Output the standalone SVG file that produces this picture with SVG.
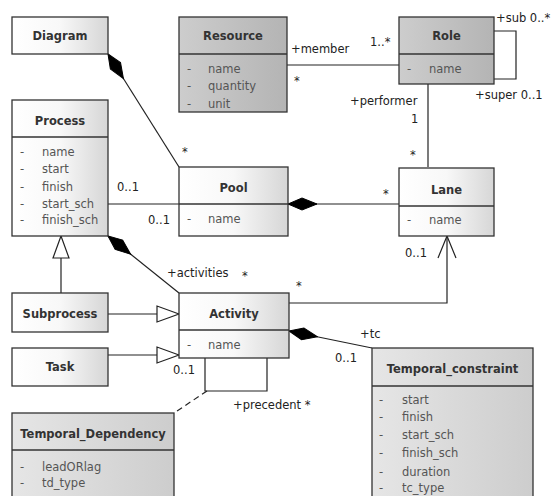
<svg xmlns="http://www.w3.org/2000/svg" width="554" height="496" viewBox="0 0 554 496">
<defs>
<linearGradient id="gw" x1="0" y1="0" x2="1" y2="0">
<stop offset="0" stop-color="#ffffff"/><stop offset="0.5" stop-color="#f8f8f8"/><stop offset="1" stop-color="#d6d6d6"/>
</linearGradient>
<linearGradient id="gd" x1="0" y1="0" x2="1" y2="0">
<stop offset="0" stop-color="#cdcdcd"/><stop offset="1" stop-color="#b4b4b4"/>
</linearGradient>
<linearGradient id="gl" x1="0" y1="0" x2="1" y2="0">
<stop offset="0" stop-color="#e6e6e6"/><stop offset="1" stop-color="#cdcdcd"/>
</linearGradient>
<marker id="dia" viewBox="-1 -7 31 14" markerWidth="31" markerHeight="14" refX="0" refY="0" orient="auto" markerUnits="userSpaceOnUse">
<path d="M0,0 L14,-6 L29,0 L14,6 z" fill="#000" stroke="#000" stroke-width="1"/>
</marker>
<marker id="gen" viewBox="-23 -10 24 20" markerWidth="24" markerHeight="20" refX="0" refY="0" orient="auto" markerUnits="userSpaceOnUse">
<path d="M0,0 L-22,-8 L-22,8 z" fill="#fff" stroke="#222" stroke-width="1.2"/>
</marker>
<marker id="arr" viewBox="-24 -11 25 22" markerWidth="25" markerHeight="22" refX="0" refY="0" orient="auto" markerUnits="userSpaceOnUse">
<path d="M-22,-9 L0,0 L-22,9" fill="none" stroke="#222" stroke-width="1.2"/>
</marker>
</defs>
<style>
.box{stroke:#333;stroke-width:1.3}
.w{fill:url(#gw)}
.d{fill:url(#gd)}
.l{fill:url(#gl)}
.sep{stroke:#333;stroke-width:1.3}
.t{font-family:"DejaVu Sans",Verdana,sans-serif;font-size:11.5px;font-weight:bold;fill:#333;text-anchor:middle}
.a{font-family:"DejaVu Sans",Verdana,sans-serif;font-size:11.5px;fill:#555}
.lb{font-family:"DejaVu Sans",Verdana,sans-serif;font-size:11.5px;fill:#222}
.c{fill:none;stroke:#222;stroke-width:1.2}
</style>
<rect width="554" height="496" fill="#fff"/>

<g id="connectors">
<path class="c" d="M108,54 L179,167" marker-start="url(#dia)"/>
<path class="c" d="M108,204 L179,204"/>
<path class="c" d="M288,204 L399,204" marker-start="url(#dia)"/>
<path class="c" d="M287,65 L399,65"/>
<path class="c" d="M494,31 H516 V79 H494"/>
<path class="c" d="M428,84 V167"/>
<path class="c" d="M108,236 L179,293" marker-start="url(#dia)"/>
<path class="c" d="M61,293 V236" marker-end="url(#gen)"/>
<path class="c" d="M108,314 H179" marker-end="url(#gen)"/>
<path class="c" d="M108,355 H179" marker-end="url(#gen)"/>
<path class="c" d="M289,303 H447 V236" marker-end="url(#arr)"/>
<path class="c" d="M205,358 V391 H267 V358"/>
<path class="c" d="M207,391 L174,413" stroke-dasharray="6,4"/>
<path class="c" d="M289,331 L372,348" marker-start="url(#dia)"/>
<text class="lb" x="182" y="156">*</text>
<text class="lb" x="117" y="191">0..1</text>
<text class="lb" x="148" y="224">0..1</text>
<text class="lb" x="383" y="198">*</text>
<text class="lb" x="291" y="53">+member</text>
<text class="lb" x="370" y="46">1..*</text>
<text class="lb" x="294" y="85">*</text>
<text class="lb" x="496" y="22">+sub 0..*</text>
<text class="lb" x="475" y="99">+super 0..1</text>
<text class="lb" x="350" y="105">+performer</text>
<text class="lb" x="411" y="123">1</text>
<text class="lb" x="410" y="159">*</text>
<text class="lb" x="167" y="277">+activities</text>
<text class="lb" x="242" y="280">*</text>
<text class="lb" x="296" y="290">*</text>
<text class="lb" x="405" y="257">0..1</text>
<text class="lb" x="173" y="374">0..1</text>
<text class="lb" x="233" y="409">+precedent *</text>
<text class="lb" x="360" y="338">+tc</text>
<text class="lb" x="335" y="362">0..1</text>
</g>

<g id="Diagram">
<rect class="box w" x="12" y="17" width="96" height="37"/>
<text class="t" x="60" y="40">Diagram</text>
</g>

<g id="Resource">
<rect class="box d" x="179" y="17" width="108" height="95"/>
<line class="sep" x1="179" y1="54" x2="287" y2="54"/>
<text class="t" x="233" y="40">Resource</text>
<text class="a" x="187" y="73">-</text><text class="a" x="208" y="73">name</text>
<text class="a" x="187" y="90">-</text><text class="a" x="208" y="90">quantity</text>
<text class="a" x="187" y="108">-</text><text class="a" x="208" y="108">unit</text>
</g>

<g id="Role">
<rect class="box d" x="399" y="17" width="95" height="67"/>
<line class="sep" x1="399" y1="54" x2="494" y2="54"/>
<text class="t" x="446.5" y="40">Role</text>
<text class="a" x="407" y="73">-</text><text class="a" x="429" y="73">name</text>
</g>

<g id="Process">
<rect class="box w" x="12" y="100" width="96" height="136"/>
<line class="sep" x1="12" y1="137" x2="108" y2="137"/>
<text class="t" x="60" y="125">Process</text>
<text class="a" x="20" y="156">-</text><text class="a" x="42" y="156">name</text>
<text class="a" x="20" y="173">-</text><text class="a" x="42" y="173">start</text>
<text class="a" x="20" y="191">-</text><text class="a" x="42" y="191">finish</text>
<text class="a" x="20" y="208">-</text><text class="a" x="42" y="208">start_sch</text>
<text class="a" x="20" y="224">-</text><text class="a" x="42" y="224">finish_sch</text>
</g>

<g id="Pool">
<rect class="box w" x="179" y="167" width="109" height="69"/>
<line class="sep" x1="179" y1="204" x2="288" y2="204"/>
<text class="t" x="233.5" y="192">Pool</text>
<text class="a" x="187" y="223">-</text><text class="a" x="208" y="223">name</text>
</g>

<g id="Lane">
<rect class="box w" x="399" y="168" width="95" height="68"/>
<line class="sep" x1="399" y1="206" x2="494" y2="206"/>
<text class="t" x="446.5" y="194">Lane</text>
<text class="a" x="407" y="224">-</text><text class="a" x="429" y="224">name</text>
</g>

<g id="Subprocess">
<rect class="box w" x="12" y="293" width="96" height="39"/>
<text class="t" x="60" y="318">Subprocess</text>
</g>

<g id="Task">
<rect class="box w" x="12" y="348" width="96" height="38"/>
<text class="t" x="60" y="371">Task</text>
</g>

<g id="Activity">
<rect class="box w" x="179" y="293" width="110" height="65"/>
<line class="sep" x1="179" y1="330" x2="289" y2="330"/>
<text class="t" x="234" y="318">Activity</text>
<text class="a" x="187" y="349">-</text><text class="a" x="208" y="349">name</text>
</g>

<g id="Temporal_Dependency">
<rect class="box l" x="12" y="413" width="162" height="95"/>
<line class="sep" x1="12" y1="450" x2="174" y2="450"/>
<text class="t" x="93" y="438">Temporal_Dependency</text>
<text class="a" x="20" y="471">-</text><text class="a" x="42" y="471">leadORlag</text>
<text class="a" x="20" y="487">-</text><text class="a" x="42" y="487">td_type</text>
</g>

<g id="Temporal_constraint">
<rect class="box l" x="372" y="348" width="161" height="160"/>
<line class="sep" x1="372" y1="386" x2="533" y2="386"/>
<text class="t" x="452.5" y="373">Temporal_constraint</text>
<text class="a" x="379" y="404">-</text><text class="a" x="402" y="404">start</text>
<text class="a" x="379" y="421">-</text><text class="a" x="402" y="421">finish</text>
<text class="a" x="379" y="439">-</text><text class="a" x="402" y="439">start_sch</text>
<text class="a" x="379" y="457">-</text><text class="a" x="402" y="457">finish_sch</text>
<text class="a" x="379" y="476">-</text><text class="a" x="402" y="476">duration</text>
<text class="a" x="379" y="492">-</text><text class="a" x="402" y="492">tc_type</text>
</g>
</svg>
